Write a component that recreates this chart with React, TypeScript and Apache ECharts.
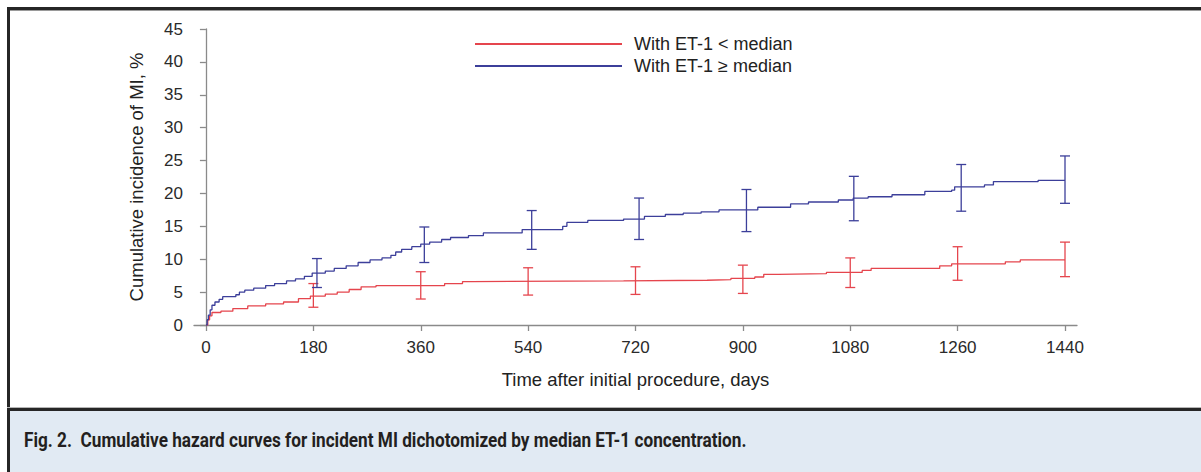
import React, { useEffect, useRef } from "react";
import * as echarts from "echarts";

const seriesNames = ["With ET-1 < median", "With ET-1 \u2265 median"];

// Step curve points [days, cumulative incidence %]
const lowCurve: number[][] = [
  [0, 0], [3, 0.8], [6, 1.4], [10, 1.9], [25, 2.1], [45, 2.5], [70, 2.9], [100, 3.2],
  [130, 3.5], [155, 4.0], [175, 4.4], [200, 4.7], [220, 5.0], [240, 5.4], [260, 5.8],
  [285, 6.0], [400, 6.3], [430, 6.6], [445, 6.7], [700, 6.8], [840, 6.9], [880, 7.1],
  [920, 7.3], [935, 7.7], [960, 7.8], [1040, 8.0], [1100, 8.3], [1115, 8.6], [1230, 9.0],
  [1250, 9.3], [1340, 9.6], [1365, 9.9], [1440, 9.9],
];

const highCurve: number[][] = [
  [0, 0], [2, 0.8], [4, 1.5], [7, 2.3], [10, 3.0], [15, 3.5], [22, 3.9], [28, 4.3],
  [50, 4.6], [56, 5.0], [65, 5.3], [80, 5.6], [100, 6.0], [115, 6.3], [135, 6.7],
  [150, 7.0], [165, 7.4], [178, 7.9], [200, 8.2], [215, 8.6], [235, 9.0], [255, 9.5],
  [275, 9.9], [295, 10.2], [310, 10.6], [318, 11.1], [328, 11.5], [345, 11.9], [360, 12.3],
  [375, 12.6], [395, 13.0], [410, 13.3], [440, 13.6], [465, 14.0], [530, 14.5], [598, 15.0],
  [605, 15.6], [640, 15.9], [700, 16.1], [735, 16.5], [770, 16.8], [800, 17.0], [830, 17.2],
  [860, 17.5], [925, 17.9], [980, 18.4], [1010, 18.7], [1060, 19.0], [1085, 19.3],
  [1110, 19.5], [1150, 19.8], [1205, 20.3], [1250, 20.5], [1255, 21.0], [1305, 21.3],
  [1320, 21.8], [1395, 22.0], [1440, 22.0],
];

// Error bars [days, low, high]
const lowErrX = [180, 360, 540, 720, 900, 1080, 1260, 1440];
const lowErrLo = [2.7, 3.95, 4.55, 4.65, 4.8, 5.7, 6.8, 7.35];
const lowErrHi = [6.3, 8.1, 8.7, 8.85, 9.1, 10.2, 11.9, 12.6];

const highErrX = [186, 366, 546, 726, 906, 1086, 1266, 1440];
const highErrLo = [5.7, 9.5, 11.5, 13.0, 14.2, 15.85, 17.3, 18.5];
const highErrHi = [10.1, 14.9, 17.4, 19.3, 20.6, 22.6, 24.4, 25.7];

const xTitle = "Time after initial procedure, days";
const yTitle = "Cumulative incidence of MI, %";
const captionLabel = "Fig. 2.";
const captionText =
  "Cumulative hazard curves for incident MI dichotomized by median ET-1 concentration.";

const RED = "#e5454d";
const BLUE = "#3c3f9a";
const AXIS = "#8a8a8a";
const FONT = '"Liberation Sans", Arial, Helvetica, sans-serif';
const CAPFONT = 'Roboto, "Open Sans", sans-serif';

function errorBarSeries(color: string, xs: number[], lo: number[], hi: number[]) {
  return {
    type: "custom",
    xAxisIndex: 1,
    yAxisIndex: 1,
    silent: true,
    z: 3,
    data: xs.map((x, i) => [x, lo[i], hi[i]]),
    renderItem: (_params: any, api: any) => {
      const top = api.coord([api.value(0), api.value(2)]);
      const bot = api.coord([api.value(0), api.value(1)]);
      const w = 5;
      const style = { stroke: color, lineWidth: 1.3 };
      return {
        type: "group",
        children: [
          { type: "line", shape: { x1: top[0], y1: top[1], x2: bot[0], y2: bot[1] }, style },
          { type: "line", shape: { x1: top[0] - w, y1: top[1], x2: top[0] + w, y2: top[1] }, style },
          { type: "line", shape: { x1: bot[0] - w, y1: bot[1], x2: bot[0] + w, y2: bot[1] }, style },
        ],
      };
    },
  };
}

export default function App() {
  const ref = useRef<HTMLDivElement>(null);
  useEffect(() => {
    if (!ref.current) return;
    const chart = echarts.init(ref.current, undefined, { renderer: "svg" });
    chart.setOption({
      animation: false,
      backgroundColor: "#ffffff",
      grid: [
        { left: 194, right: 124, top: 29, bottom: 147 },
        { left: 206, right: 136, top: 29, bottom: 147 },
      ],
      legend: {
        orient: "vertical",
        left: 475,
        top: 35,
        padding: 0,
        itemWidth: 147,
        itemHeight: 2,
        itemGap: 4,
        icon: "rect",
        data: seriesNames,
        textStyle: { fontFamily: FONT, fontSize: 18, color: "#222", padding: [0, 0, 0, 7] },
      },
      xAxis: [
        {
          gridIndex: 0,
          type: "value",
          min: -20,
          max: 1460,
          axisLine: { show: true, lineStyle: { color: AXIS, width: 1.3 } },
          axisTick: { show: false },
          axisLabel: { show: false },
          splitLine: { show: false },
        },
        {
          gridIndex: 1,
          type: "value",
          min: 0,
          max: 1440,
          interval: 180,
          axisLine: { show: false },
          axisTick: { show: true, length: 6, lineStyle: { color: AXIS, width: 1.3 } },
          axisLabel: {
            fontFamily: FONT,
            fontSize: 17,
            color: "#2a2a2a",
            margin: 14,
            formatter: (v: number) => String(v),
          },
          splitLine: { show: false },
          name: xTitle,
          nameLocation: "middle",
          nameGap: 45,
          nameTextStyle: { fontFamily: FONT, fontSize: 18.5, color: "#222" },
        },
      ],
      yAxis: [
        {
          gridIndex: 0,
          type: "value",
          min: 0,
          max: 45,
          interval: 5,
          axisLine: { show: true, lineStyle: { color: AXIS, width: 1.3 } },
          axisTick: { show: true, length: 6, lineStyle: { color: AXIS, width: 1.3 } },
          axisLabel: {
            fontFamily: FONT,
            fontSize: 17,
            color: "#2a2a2a",
            margin: 11,
            formatter: (v: number) => String(v),
          },
          splitLine: { show: false },
          name: yTitle,
          nameLocation: "middle",
          nameRotate: 90,
          nameGap: 48,
          nameTextStyle: { fontFamily: FONT, fontSize: 18.5, color: "#222" },
        },
        {
          gridIndex: 1,
          type: "value",
          min: 0,
          max: 45,
          show: false,
        },
      ],
      series: [
        {
          name: seriesNames[0],
          type: "line",
          xAxisIndex: 1,
          yAxisIndex: 1,
          step: "end",
          showSymbol: false,
          symbol: "none",
          color: RED,
          lineStyle: { color: RED, width: 1.3 },
          data: lowCurve,
          z: 2,
        },
        {
          name: seriesNames[1],
          type: "line",
          xAxisIndex: 1,
          yAxisIndex: 1,
          step: "end",
          showSymbol: false,
          symbol: "none",
          color: BLUE,
          lineStyle: { color: BLUE, width: 1.3 },
          data: highCurve,
          z: 2,
        },
        errorBarSeries(RED, lowErrX, lowErrLo, lowErrHi),
        errorBarSeries(BLUE, highErrX, highErrLo, highErrHi),
      ],
      graphic: [
        { type: "rect", z: -1, shape: { x: 10, y: 411, width: 1191, height: 61 }, style: { fill: "#e1eaf3" } },
        { type: "rect", z: 10, shape: { x: 7, y: 7, width: 1194, height: 3 }, style: { fill: "#262626" } },
        { type: "rect", z: 10, shape: { x: 7, y: 10, width: 1194, height: 1 }, style: { fill: "#9a9a9a" } },
        { type: "rect", z: 10, shape: { x: 7, y: 7, width: 3, height: 465 }, style: { fill: "#262626" } },
        { type: "rect", z: 10, shape: { x: 7, y: 407, width: 1194, height: 1 }, style: { fill: "#b5b5b5" } },
        { type: "rect", z: 10, shape: { x: 7, y: 408, width: 1194, height: 3 }, style: { fill: "#262626" } },
        {
          type: "text",
          z: 10,
          x: 24,
          y: 441,
          scaleX: 0.86,
          style: {
            text: "{b|" + captionLabel + "}   {n|" + captionText + "}",
            verticalAlign: "middle",
            fill: "#231f20",
            rich: {
              b: { fontFamily: CAPFONT, fontSize: 20, fontWeight: "bold", fill: "#231f20" },
              n: { fontFamily: CAPFONT, fontSize: 20, fontWeight: "bold", fill: "#231f20" },
            },
          },
        },
      ],
    });
    return () => chart.dispose();
  }, []);
  return (
    <div
      ref={ref}
      style={{ position: "absolute", left: 0, top: 0, width: 1201, height: 472 }}
    />
  );
}
